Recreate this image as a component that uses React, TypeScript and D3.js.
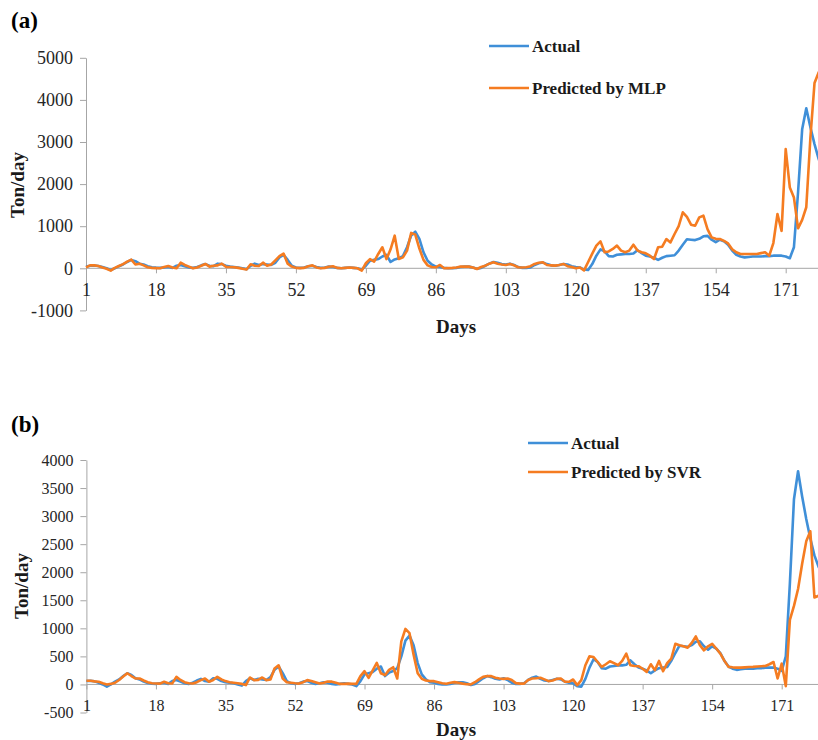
import { useEffect, useRef } from 'react';
import * as d3 from 'd3';

// Daily load (ton/day)
const actual = [
    40, 60, 65, 55, 30, 0, -40, 0, 50, 90,
    150, 200, 170, 110, 90, 50, 25, 15, 10, 20,
    30, 10, 60, 80, 50, 20, 10, 30, 70, 100,
    60, 50, 110, 100, 60, 40, 30, 20, 0, -20,
    60, 110, 80, 100, 90, 80, 130, 260, 320, 200,
    60, 20, 10, 20, 50, 60, 30, 10, 20, 40,
    30, 10, 0, 10, 20, 10, 0, -30, 60, 180,
    200, 220, 280, 320, 150, 210, 240, 290, 500, 780,
    870, 700, 380, 180, 90, 40, 30, 10, 0, 0,
    10, 30, 40, 40, 20, -10, 10, 60, 110, 150,
    130, 100, 90, 110, 80, 30, 10, 10, 20, 80,
    120, 140, 100, 70, 60, 80, 100, 90, 50, 30,
    20, -30, -40, 100, 300, 450, 400, 290, 280, 320,
    330, 340, 340, 350, 430, 360, 300, 280, 250, 200,
    250, 290, 300, 310, 420, 560, 690, 680, 670, 700,
    760, 770, 680, 620, 680, 640, 560, 420, 320, 280,
    260, 270, 280, 280, 280, 290, 290, 300, 300, 300,
    280, 240, 500, 1800, 3300, 3800, 3350, 2950, 2600, 2300, 2100, 1950,
];

const mlp = [
    20, 70, 70, 55, 20, -10, -55, 10, 55, 100,
    160, 205, 90, 110, 70, 25, 10, 5, 0, 30,
    55, 20, 0, 134, 80, 40, 0, 20, 60, 103,
    40, 60, 70, 110, 35, 30, 25, 10, -10, -30,
    95, 60, 55, 134, 60, 90, 190, 290, 350, 110,
    40, 10, 5, 10, 50, 70, 20, 0, 10, 35,
    47, 10, 0, 10, 20, 10, 0, -55, 120, 220,
    160, 340, 500, 220, 450, 775, 220, 260, 420, 840,
    800, 470, 200, 70, 30, 24, 79, 0, 5, 10,
    20, 40, 40, 40, 20, -16, 30, 63, 110, 142,
    110, 90, 80, 103, 70, 24, 20, 24, 50, 103,
    130, 142, 79, 70, 63, 80, 103, 50, 30, 0,
    20, -50, 150, 350, 540, 640, 380, 400, 460, 540,
    420, 380, 420, 560, 420, 380, 355, 300, 220, 500,
    513, 695, 615, 815, 1000, 1330, 1220, 1035, 1010, 1210,
    1250, 930, 735, 700, 695, 650, 590, 450, 380, 340,
    340, 340, 340, 340, 360, 380, 300, 600, 1290, 890,
    2830, 1920, 1680, 950, 1150, 1450, 3100, 4400, 4650, 4800, 4800, 4800,
];

const svr = [
    65, 65, 55, 47, 20, 0, 10, 30, 80, 140,
    200, 150, 106, 106, 70, 40, 20, 18, 15, 47,
    20, 18, 136, 80, 40, 20, 18, 40, 77, 106,
    47, 80, 136, 90, 60, 40, 30, 20, 10, -12,
    124, 77, 80, 124, 77, 88, 283, 342, 106, 40,
    30, 20, 15, 40, 77, 60, 40, 18, 30, 53,
    50, 30, 10, 10, 15, 10, 10, 148, 236, 118,
    250, 384, 200, 165, 260, 307, 106, 767, 990, 914,
    531, 200, 100, 71, 60, 59, 40, 20, 12, 30,
    41, 30, 15, 5, 0, 40, 90, 136, 148, 148,
    120, 106, 100, 106, 80, 24, 15, 15, 80, 106,
    110, 118, 90, 59, 70, 100, 106, 47, 47, 88,
    -12, 77, 342, 500, 490, 400, 313, 360, 413, 380,
    342, 420, 549, 342, 330, 325, 280, 224, 360, 254,
    419, 236, 380, 460, 725, 700, 680, 655, 740, 855,
    700, 608, 680, 725, 640, 549, 420, 313, 305, 300,
    300, 305, 310, 313, 320, 325, 330, 360, 400, 106,
    370, -30, 1150, 1400, 1700, 2150, 2550, 2730, 1550, 1580, 1600,
];

// panel (b) shows the actual series one day earlier than panel (a)
const actualB = actual.slice(1);

const dayTicks = [1, 18, 35, 52, 69, 86, 103, 120, 137, 154, 171];
const mlpTicks = [-1000, 0, 1000, 2000, 3000, 4000, 5000];
const svrTicks = [-500, 0, 500, 1000, 1500, 2000, 2500, 3000, 3500, 4000];

const BLUE = '#3f8fd8';
const ORANGE = '#f57c21';
const SERIF = '"Liberation Serif", "Times New Roman", serif';

interface PanelOpts {
    tag: string;
    tagY: number;
    ticks: number[];
    yTop: number;
    yBottom: number;
    x1: number;
    x171: number;
    fontSize: number;
    predicted: number[];
    observed: number[];
    predLabel: string;
    legendX: number;
    legendY: [number, number];
    yTitleX: number;
    yTitleY: number;
    xTitleY: number;
}

function drawPanel(svg: d3.Selection<SVGSVGElement, unknown, null, undefined>, p: PanelOpts) {
    const x = d3.scaleLinear().domain([1, 171]).range([p.x1, p.x171]);
    const y = d3.scaleLinear()
        .domain([p.ticks[0], p.ticks[p.ticks.length - 1]])
        .range([p.yBottom, p.yTop]);

    const g = svg.append('g');

    // y axis (plain hyphen for negatives, like Excel)
    const yAxis = g.append('g')
        .attr('transform', `translate(${p.x1},0)`)
        .call(d3.axisLeft(y).tickValues(p.ticks).tickSize(6).tickSizeOuter(0).tickPadding(7)
            .tickFormat((d) => String(d)));
    yAxis.selectAll('path, line').attr('stroke', '#a6a6a6');
    yAxis.selectAll('text')
        .attr('fill', '#262626')
        .attr('font-family', SERIF)
        .attr('font-size', p.fontSize);

    // x axis at zero
    const xAxis = g.append('g')
        .attr('transform', `translate(0,${y(0)})`)
        .call(d3.axisBottom(x).tickValues(dayTicks).tickSize(5).tickSizeOuter(0).tickPadding(10)
            .tickFormat((d) => String(d)));
    xAxis.select('.domain').remove();
    xAxis.selectAll('line').attr('stroke', '#a6a6a6');
    xAxis.selectAll('text')
        .attr('fill', '#262626')
        .attr('font-family', SERIF)
        .attr('font-size', p.fontSize);
    g.append('line')
        .attr('x1', p.x1).attr('x2', 818)
        .attr('y1', y(0)).attr('y2', y(0))
        .attr('stroke', '#a6a6a6');

    const line = d3.line<number>()
        .x((_, i) => x(i + 1))
        .y((d) => y(d));

    g.append('path')
        .attr('d', line(p.observed) as string)
        .attr('fill', 'none')
        .attr('stroke', BLUE)
        .attr('stroke-width', 2.6)
        .attr('stroke-linejoin', 'round');

    g.append('path')
        .attr('d', line(p.predicted) as string)
        .attr('fill', 'none')
        .attr('stroke', ORANGE)
        .attr('stroke-width', 2.6)
        .attr('stroke-linejoin', 'round');

    // legend
    const legend = [
        { label: 'Actual', color: BLUE },
        { label: p.predLabel, color: ORANGE },
    ];
    legend.forEach((item, i) => {
        const ly = p.legendY[i];
        g.append('line')
            .attr('x1', p.legendX).attr('x2', p.legendX + 40)
            .attr('y1', ly).attr('y2', ly)
            .attr('stroke', item.color)
            .attr('stroke-width', 2.6);
        g.append('text')
            .attr('x', p.legendX + 43)
            .attr('y', ly + 6)
            .attr('font-family', SERIF)
            .attr('font-weight', 'bold')
            .attr('font-size', 17)
            .attr('fill', '#1a1a1a')
            .text(item.label);
    });

    // titles
    g.append('text')
        .attr('x', 11)
        .attr('y', p.tagY)
        .attr('font-family', SERIF)
        .attr('font-weight', 'bold')
        .attr('font-size', 23)
        .attr('fill', '#000')
        .text(p.tag);

    g.append('text')
        .attr('transform', `translate(${p.yTitleX},${p.yTitleY}) rotate(-90)`)
        .attr('text-anchor', 'middle')
        .attr('font-family', SERIF)
        .attr('font-weight', 'bold')
        .attr('font-size', 19)
        .attr('fill', '#1a1a1a')
        .text('Ton/day');

    g.append('text')
        .attr('x', 456)
        .attr('y', p.xTitleY)
        .attr('text-anchor', 'middle')
        .attr('font-family', SERIF)
        .attr('font-weight', 'bold')
        .attr('font-size', 19)
        .attr('fill', '#1a1a1a')
        .text('Days');
}

export default function App() {
    const ref = useRef<SVGSVGElement>(null);

    useEffect(() => {
        if (!ref.current) return;
        const svg = d3.select(ref.current);
        svg.selectAll('*').remove();

        drawPanel(svg, {
            tag: '(a)',
            tagY: 28,
            ticks: mlpTicks,
            yTop: 57.8,
            yBottom: 310.4,
            x1: 86,
            x171: 785.7,
            fontSize: 18,
            predicted: mlp,
            observed: actual,
            predLabel: 'Predicted by MLP',
            legendX: 489,
            legendY: [46, 88],
            yTitleX: 24,
            yTitleY: 185,
            xTitleY: 333,
        });

        drawPanel(svg, {
            tag: '(b)',
            tagY: 432,
            ticks: svrTicks,
            yTop: 460,
            yBottom: 712.5,
            x1: 86.4,
            x171: 781.7,
            fontSize: 16,
            predicted: svr,
            observed: actualB,
            predLabel: 'Predicted by SVR',
            legendX: 528,
            legendY: [443, 472],
            yTitleX: 28,
            yTitleY: 586,
            xTitleY: 736,
        });
    }, []);

    return (
        <svg
            ref={ref}
            width={818}
            height={740}
            style={{ position: 'absolute', left: 0, top: 0, background: '#fff' }}
        />
    );
}
